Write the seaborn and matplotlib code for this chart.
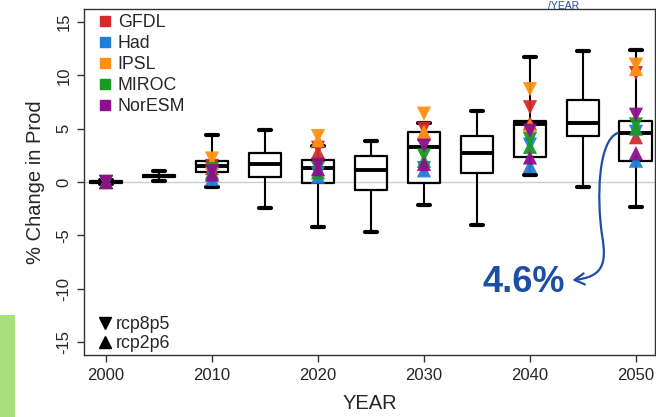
import numpy as np
import pandas as pd
import seaborn as sns
import matplotlib
matplotlib.use("Agg")
import matplotlib.pyplot as plt
from matplotlib.lines import Line2D
from matplotlib.path import Path
from matplotlib.patches import FancyArrowPatch, Rectangle

# ---------------- data ----------------
box_years = [2000, 2005, 2010, 2015, 2020, 2025, 2030, 2035, 2040, 2045, 2050]
# five-number summaries: lower whisker, Q1, median, Q3, upper whisker
whisk_lo = [-0.15, 0.10, -0.50, -2.40, -4.25, -4.65, -2.20, -4.00, 0.70, -0.50, -2.30]
q1       = [-0.05, 0.50, 0.90, 0.50, -0.10, -0.75, -0.05, 0.80, 2.30, 4.35, 2.00]
median   = [0.00, 0.60, 1.50, 1.70, 1.30, 1.10, 3.30, 2.70, 5.45, 5.55, 4.55]
q3       = [0.05, 0.70, 2.00, 2.70, 2.10, 2.40, 4.65, 4.35, 5.70, 7.70, 5.70]
whisk_hi = [0.15, 1.00, 4.40, 4.90, 3.40, 3.85, 5.50, 6.65, 11.70, 12.30, 12.40]

models = ["GFDL", "Had", "IPSL", "MIROC", "NorESM"]
model_colors = ["#d62a2a", "#1f7fd6", "#ff9012", "#1a9a24", "#8e0f8e"]
scenarios = ["rcp8p5", "rcp2p6"]
point_years = [2000, 2010, 2020, 2030, 2040, 2050]
# model projections per year (order: GFDL, Had, IPSL, MIROC, NorESM)
rcp8p5 = {
    2000: [0.0, 0.0, 0.0, 0.0, 0.0],
    2010: [1.5, 0.8, 2.2, 1.2, 1.0],
    2020: [3.2, 0.8, 4.3, 1.3, 1.6],
    2030: [5.0, 1.3, 6.4, 2.5, 3.4],
    2040: [7.0, 3.5, 8.7, 4.0, 4.8],
    2050: [10.2, 4.7, 11.0, 5.4, 6.3],
}
rcp2p6 = {
    2000: [0.0, 0.0, 0.0, 0.0, 0.0],
    2010: [1.3, 0.3, 1.8, 0.9, 0.7],
    2020: [2.8, 0.5, 3.9, 0.9, 1.2],
    2030: [4.5, 1.1, 4.7, 2.0, 1.7],
    2040: [5.5, 1.5, 5.3, 3.3, 2.3],
    2050: [4.2, 2.0, 10.6, 5.0, 2.7],
}

x_ticks = [2000, 2010, 2020, 2030, 2040, 2050]
y_ticks = [-15, -10, -5, 0, 5, 10, 15]
annot_value = 4.6

# ---------------- tables ----------------
box_rows = []
for i, yr in enumerate(box_years):
    for v in (whisk_lo[i], q1[i], median[i], q3[i], whisk_hi[i]):
        box_rows.append({"YEAR": yr, "value": v})
box_df = pd.DataFrame(box_rows)

pt_rows = []
for m_i, m in enumerate(models):
    for yr in point_years:
        pt_rows.append({"YEAR": yr, "value": rcp8p5[yr][m_i], "model": m, "scenario": "rcp8p5"})
        pt_rows.append({"YEAR": yr, "value": rcp2p6[yr][m_i], "model": m, "scenario": "rcp2p6"})
pt_df = pd.DataFrame(pt_rows)

# ---------------- figure ----------------
sns.set_style("white")
plt.rcParams["font.family"] = ["Liberation Sans", "DejaVu Sans"]

fig = plt.figure(figsize=(6.56, 4.17), dpi=100)
ax = fig.add_axes([84 / 656, 62 / 417, 571 / 656, 346 / 417])

ax.axhline(0, color="#cccccc", lw=1.0, zorder=0)

sns.boxplot(data=box_df, x="YEAR", y="value", native_scale=True, whis=(0, 100),
            width=0.62, fill=False, color="black", linecolor="black", linewidth=1.6,
            showfliers=False, ax=ax,
            medianprops=dict(color="black", lw=2.8),
            capprops=dict(color="black", lw=3.0),
            whiskerprops=dict(color="black", lw=1.5),
            boxprops=dict(color="black", lw=1.6),
            capwidths=1.15)

sns.scatterplot(data=pt_df, x="YEAR", y="value", hue="model", style="scenario",
                hue_order=models, palette=model_colors,
                style_order=scenarios, markers={"rcp8p5": "v", "rcp2p6": "^"},
                s=105, linewidth=0, alpha=0.95, legend=False, ax=ax, zorder=3)

ax.set_xlim(1997.92, 2051.8)
ax.set_ylim(-16.21, 16.21)
ax.set_xticks(x_ticks)
ax.set_xticklabels([str(t) for t in x_ticks], fontsize=12)
ax.set_yticks(y_ticks)
ax.set_yticklabels([str(t) for t in y_ticks], fontsize=12, rotation=90, va="center")
ax.tick_params(axis="both", direction="out", length=5, width=1, color="#333333",
               bottom=True, left=True, pad=4)
ax.set_xlabel("YEAR", fontsize=14.5, labelpad=8)
ax.set_ylabel("% Change in Prod", fontsize=14.5, labelpad=8)
for sp in ax.spines.values():
    sp.set_visible(True)
    sp.set_color("#333333")
    sp.set_linewidth(1.0)

# legends
model_handles = [Line2D([], [], marker="s", ls="", color=c, markersize=7) for c in model_colors]
leg1 = ax.legend(model_handles, models, loc="upper left", bbox_to_anchor=(0.006, 1.005),
                 frameon=False, fontsize=12.8, handletextpad=0.1, labelspacing=0.22,
                 handlelength=1.2, borderaxespad=0.0)
ax.add_artist(leg1)
sc_handles = [Line2D([], [], marker="v", ls="", color="black", markersize=9),
              Line2D([], [], marker="^", ls="", color="black", markersize=9)]
ax.legend(sc_handles, scenarios, loc="lower left", bbox_to_anchor=(0.006, -0.012),
          frameon=False, fontsize=12.8, handletextpad=0.0, labelspacing=0.1,
          handlelength=1.2, borderaxespad=0.0)

# annotation: 4.6% with curved arrow
blue = "#1d4ea6"
ax.text(2035.5, -9.45, f"{annot_value}%", color=blue, fontsize=26, fontweight="bold",
        ha="left", va="center")
verts = [(2048.3, annot_value), (2046.4, 3.9), (2046.3, -1.6), (2046.8, -4.95),
         (2047.3, -7.8), (2046.8, -8.9), (2044.0, -9.2)]
codes = [Path.MOVETO, Path.CURVE4, Path.CURVE4, Path.CURVE4,
         Path.CURVE4, Path.CURVE4, Path.CURVE4]
arrow = FancyArrowPatch(path=Path(verts, codes), arrowstyle="->,head_length=7,head_width=4",
                        color=blue, lw=1.6, zorder=5)
ax.add_patch(arrow)

# decorations carried over from the source screenshot
fig.text(0.835, 0.998, "/YEAR", color=blue, fontsize=7.5, va="top", ha="left")
fig.patches.append(Rectangle((0, 0), 15 / 656, 102 / 417, transform=fig.transFigure,
                             facecolor="#a8e07c", edgecolor="none"))

fig.savefig("out.png", dpi=100)
